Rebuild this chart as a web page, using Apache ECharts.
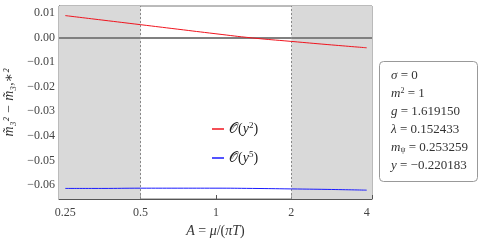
<!DOCTYPE html>
<html><head><meta charset="utf-8">
<script src="https://cdn.jsdelivr.net/npm/echarts@6/dist/echarts.min.js"></script>
<style>html,body{margin:0;padding:0;background:#fff}#c{width:479px;height:248px}</style>
</head><body><div id="c"></div>
<script>
const xValues = [0.25, 0.35, 0.5, 0.7, 1, 1.4, 2, 2.8, 4];
const redValues = [0.0089, 0.0071, 0.0052, 0.0034, 0.0015, -0.0002, -0.0016, -0.0029, -0.0042];
const blueValues = [-0.0614, -0.0614, -0.0613, -0.0613, -0.0613, -0.0614, -0.0616, -0.0618, -0.0621];
const xTicks = [0.25, 0.5, 1, 2, 4];
const shadeLeft = [0.236, 0.5];
const shadeRight = [2, 4.2];
const dashedAt = [0.5, 2];
const seriesNames = ['O(y^2)', 'O(y^5)'];
const legendLabels = {'O(y^2)': '{o|𝒪}({i|y}{s|2})', 'O(y^5)': '{o|𝒪}({i|y}{s|5})'};
const paramLines = [
  '{i|σ} = 0',
  '{i|m}{sup|2} = 1',
  '{i|g} = 1.619150',
  '{i|λ} = 0.152433',
  '{i|m}{sub|ψ} = 0.253259',
  '{i|y} = −0.220183'
];
const SERIF = '"Liberation Serif","DejaVu Serif",serif';
const chart = echarts.init(document.getElementById('c'), null, {renderer: 'canvas'});
const fmtY = v => {
  const s = Math.abs(v).toFixed(2);
  return (v < -1e-9 ? '−' : '') + s;
};
const fmtX = v => {
  for (const t of xTicks) if (Math.abs(v - t) < 1e-6) return String(t);
  return '';
};
chart.setOption({
  animation: false,
  grid: {left: 59, right: 107, top: 6, bottom: 49, show: true, borderColor: '#777', borderWidth: 1,
    backgroundColor: 'transparent', containLabel: false, outerBoundsMode: 'none'},
  legend: {
    orient: 'vertical', left: 207, top: 116, itemWidth: 12, itemHeight: 1.5, itemGap: 13, icon: 'rect',
    formatter: n => legendLabels[n],
    textStyle: {fontFamily: SERIF, fontSize: 14, color: '#222', lineHeight: 16,
      rich: {
        o: {fontFamily: SERIF, fontSize: 14, color: '#222', lineHeight: 16},
        i: {fontFamily: SERIF, fontStyle: 'italic', fontSize: 14, color: '#222', lineHeight: 16},
        s: {fontFamily: SERIF, fontSize: 9, color: '#222', verticalAlign: 'top', lineHeight: 16}
      }},
    data: seriesNames
  },
  xAxis: {
    type: 'log', logBase: 2, min: shadeLeft[0], max: shadeRight[1],
    name: '{i|A} = {i|μ}/({i|πT})', nameLocation: 'middle', nameGap: 25,
    nameTextStyle: {fontFamily: SERIF, fontSize: 14, color: '#333', rich: {i: {fontStyle: 'italic', fontFamily: SERIF, fontSize: 14, color: '#333'}}},
    axisLine: {show: true, onZero: false, lineStyle: {color: '#555', width: 1}},
    axisTick: {show: true, inside: true, length: 4, lineStyle: {color: '#555'}},
    axisLabel: {formatter: fmtX, fontFamily: SERIF, fontSize: 12, color: '#444', margin: 8, showMinLabel: true, showMaxLabel: true},
    splitLine: {show: false}
  },
  yAxis: {
    type: 'value', min: -0.0657, max: 0.0128, splitNumber: 8,
    name: 'm̃₃² − m̃₃,∗²', nameLocation: 'middle', nameGap: 41, nameRotate: 90,
    nameTextStyle: {fontFamily: SERIF, fontSize: 14, fontStyle: 'italic', color: '#333'},
    axisLine: {show: true, onZero: false, lineStyle: {color: '#555', width: 1}},
    axisTick: {show: true, inside: true, length: 4, lineStyle: {color: '#555'}},
    minorTick: {show: true, splitNumber: 5, length: 2, lineStyle: {color: '#555'}},
    axisLabel: {formatter: fmtY, fontFamily: SERIF, fontSize: 12, color: '#444', margin: 4, showMinLabel: false, showMaxLabel: false},
    splitLine: {show: false}
  },
  series: [
    {
      name: seriesNames[0], type: 'line', symbol: 'none', smooth: true,
      data: xValues.map((x, i) => [x, redValues[i]]),
      lineStyle: {color: '#f0141e', width: 1}, itemStyle: {color: '#f0141e'}, z: 5,
      markArea: {silent: true, itemStyle: {color: '#d9d9d9'},
        data: [[{xAxis: shadeLeft[0]}, {xAxis: shadeLeft[1]}], [{xAxis: shadeRight[0]}, {xAxis: shadeRight[1]}]]},
      markLine: {silent: true, symbol: 'none', label: {show: false},
        data: [
          {yAxis: 0, lineStyle: {color: '#808080', width: 2, type: 'solid'}},
          ...dashedAt.map(v => ({xAxis: v, lineStyle: {color: '#888', width: 1, type: [2, 2]}}))
        ]}
    },
    {
      name: seriesNames[1], type: 'line', symbol: 'none', smooth: true,
      data: xValues.map((x, i) => [x, blueValues[i]]),
      lineStyle: {color: '#1a1aff', width: 1}, itemStyle: {color: '#1a1aff'}, z: 5
    }
  ],
  graphic: [
    {type: 'rect', left: 379, top: 61, shape: {width: 98, height: 120, r: 4},
      style: {fill: '#fff', stroke: '#999', lineWidth: 1}},
    ...paramLines.map((t, i) => ({
      type: 'text', left: 391, top: 69 + i * 18,
      style: {text: t, fontFamily: SERIF, fontSize: 13, fill: '#333',
        rich: {
          i: {fontStyle: 'italic', fontFamily: SERIF, fontSize: 13, fill: '#333'},
          sup: {fontSize: 8, fontFamily: SERIF, fill: '#333', verticalAlign: 'top'},
          sub: {fontSize: 8, fontFamily: SERIF, fill: '#333', verticalAlign: 'bottom'}
        }}
    }))
  ]
});
</script></body></html>
